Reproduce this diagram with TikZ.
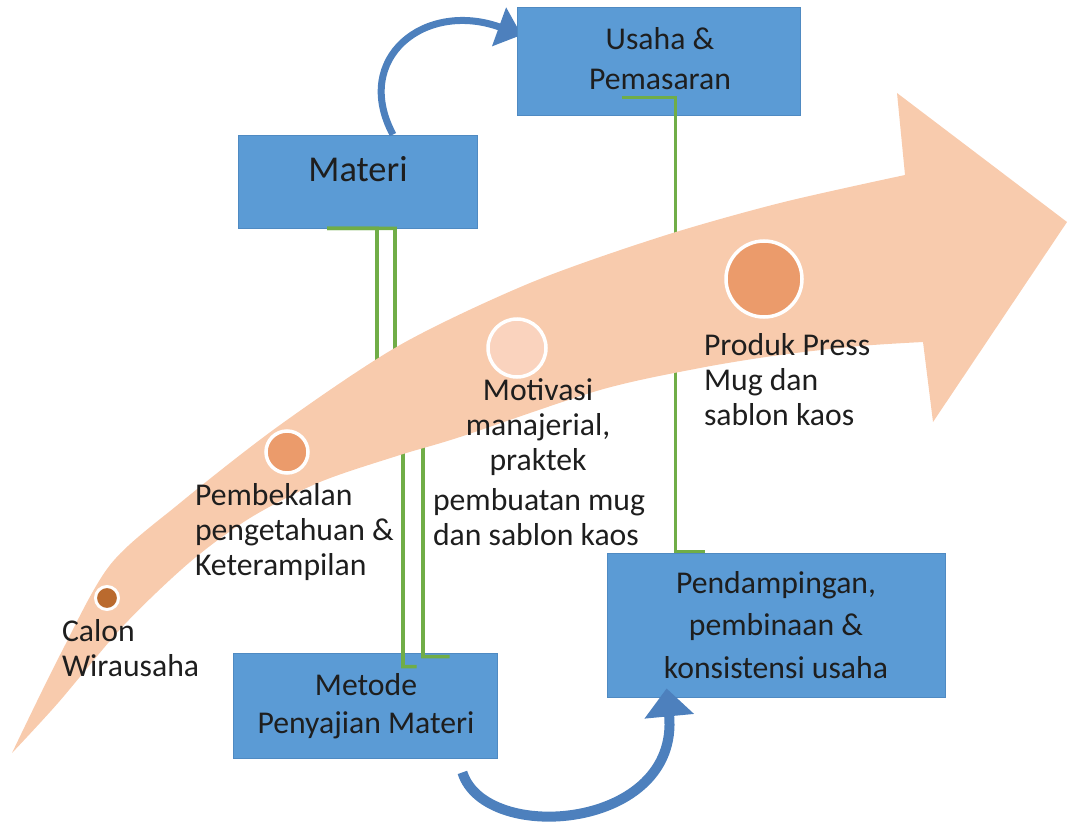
\documentclass[tikz,border=0pt]{standalone}
\usepackage{fontspec}
\setmainfont{Carlito}
\usetikzlibrary{arrows.meta,calc}
\definecolor{boxblue}{HTML}{5B9BD5}
\definecolor{boxedge}{HTML}{4F8AC2}
\definecolor{arrowblue}{HTML}{4D80BD}
\definecolor{peach}{HTML}{F8CBAD}
\definecolor{peachlight}{HTML}{FAD3BE}
\definecolor{orangedot}{HTML}{EB9B6B}
\definecolor{browndot}{HTML}{BA6A2E}
\definecolor{gline}{HTML}{70AD47}
\definecolor{txt}{HTML}{1E1E1E}
\tikzset{
  bx/.style={draw=boxedge, line width=0.8pt, fill=boxblue, rectangle, inner sep=0pt},
  gconn/.style={draw=gline, line width=3.6pt},
  dot/.style={circle, draw=white, line width=3.5pt, inner sep=0pt},
  body/.style={font=\fontsize{31.7}{35}\selectfont, text=txt, inner sep=0pt, outer sep=0pt},
  curvearrow/.style={draw=arrowblue, line width=#1},
}
\begin{document}
\begin{tikzpicture}[x=1pt,y=-1pt]
\useasboundingbox (0,0) rectangle (1067,829);
% boxes
\node[bx, minimum width=283pt, minimum height=108pt] (usaha) at (658.5,61) {};
\node[bx, minimum width=239pt, minimum height=93pt] (materi) at (357.5,181.5) {};
\node[bx, minimum width=264pt, minimum height=105pt] (metode) at (365,705.5) {};
\node[bx, minimum width=338pt, minimum height=144pt] (pend) at (776,625) {};
% top curved arrow (behind usaha box edge)
\draw[curvearrow=7pt, -{Triangle[length=24pt,width=40pt]}]
  ([xshift=35.5pt]materi.north) .. controls (352,58) and (425,0) .. ([xshift=5pt,yshift=26pt]usaha.west);
\node[bx, minimum width=283pt, minimum height=108pt] at (usaha.center) {};
% green connectors
\coordinate (j1a) at (377,400);
\coordinate (j1b) at (403,440);
\coordinate (j2a) at (395,370);
\coordinate (j2b) at (423,430);
\draw[gconn] ([xshift=-30.5pt]materi.south) -- ([xshift=19.5pt]materi.south) -- (j1a) -- (j1b)
  |- ([xshift=184pt,yshift=-14pt]metode.north west);
\draw[gconn] ([xshift=-30.5pt]materi.south) -- ([xshift=37.5pt]materi.south) -- (j2a) -- (j2b)
  |- ([xshift=217pt,yshift=-4pt]metode.north west);
\draw[gconn] ([xshift=105pt,yshift=18pt]usaha.south west) -| ([xshift=69pt,yshift=1pt]pend.north west)
  -- ([xshift=98pt,yshift=1pt]pend.north west);
% big curved arrow
\fill[peach] plot[smooth] coordinates {(12,753) (60,655) (110,565) (180,503) (280,425) (400,345) (530,283) (660,237) (780,203) (905,175)}
  -- (897,93) -- (1067,222) -- (933,422) -- (923,342)
  -- plot[smooth] coordinates {(923,342) (860,346) (780,355) (700,368) (600,390) (460,437) (400,455) (320,482) (250,518) (190,562) (124,625) (58,703) (12,753)}
  -- cycle;
% dots
\node[dot, fill=browndot, minimum size=23pt, line width=3pt] (d1) at (107,598) {};
\node[dot, fill=orangedot, minimum size=42pt] (d2) at (287,452) {};
\node[dot, fill=peachlight, minimum size=58pt] (d3) at (517,348) {};
\node[dot, fill=orangedot, minimum size=76pt] (d4) at (764,279) {};
% free texts (anchor base = baseline of the last line)
\node[body, align=left, anchor=base west] (tcalon) at (62,676) {Calon\\Wirausaha};
\node[body, align=left, anchor=base west] (tpemb) at (195,575) {Pembekalan\\pengetahuan \&\\Keterampilan};
\node[body, align=center, anchor=base] (tmotiv) at (538,470) {Motivasi\\manajerial,\\praktek};
\node[body, align=left, anchor=base west] (tpembuatan) at (433,545) {pembuatan mug\\dan sablon kaos};
\node[body, align=left, anchor=base west] (tproduk) at (704,425) {Produk Press\\Mug dan\\sablon kaos};
% box texts
\node[body, font=\fontsize{31.7}{40}\selectfont, align=center, anchor=base] (tusaha) at (660,90) {Usaha \&\\Pemasaran};
\node[body, font=\fontsize{36.4}{40}\selectfont, anchor=base] (tmateri) at (358,182) {Materi};
\node[body, font=\fontsize{31.7}{38}\selectfont, align=center, anchor=base] (tmetode) at (366,733) {Metode\\Penyajian Materi};
\node[body, font=\fontsize{31.7}{42.5}\selectfont, align=center, anchor=base] (tpend) at (776,678) {Pendampingan,\\pembinaan \&\\konsistensi usaha};
% bottom curved arrow
\draw[curvearrow=10pt, -{Triangle[length=28pt,width=48pt]}]
  ([xshift=-35pt,yshift=-14pt]metode.south east) .. controls (485,845) and (680,830) .. ([xshift=60pt,yshift=9pt]pend.south west);
\end{tikzpicture}
\end{document}
